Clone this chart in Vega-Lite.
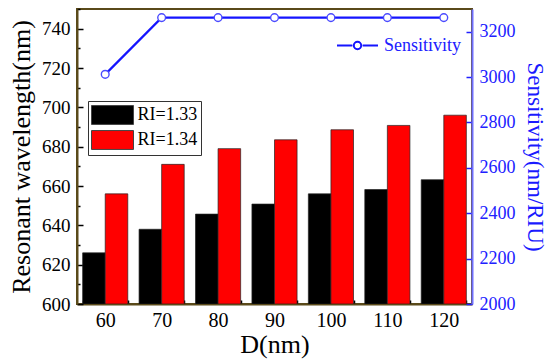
{
  "$schema": "https://vega.github.io/schema/vega-lite/v6.json",
  "width": 395,
  "height": 295,
  "autosize": "none",
  "padding": {"left": 77, "top": 9, "right": 74, "bottom": 56},
  "config": {
    "font": "Liberation Serif",
    "view": {"stroke": "#5a4a1a", "strokeWidth": 2},
    "axis": {"grid": false, "domainWidth": 2, "tickColor": "#000", "tickWidth": 1.5, "labelFont": "Liberation Serif", "titleFont": "Liberation Serif", "titleFontWeight": "normal"},
    "legend": {"labelFont": "Liberation Serif"}
  },
  "datasets": {
    "bars": [
      {"D": 60, "RI": "RI=1.33", "wl": 626},
      {"D": 60, "RI": "RI=1.34", "wl": 656},
      {"D": 70, "RI": "RI=1.33", "wl": 638},
      {"D": 70, "RI": "RI=1.34", "wl": 671},
      {"D": 80, "RI": "RI=1.33", "wl": 645.7},
      {"D": 80, "RI": "RI=1.34", "wl": 679},
      {"D": 90, "RI": "RI=1.33", "wl": 650.8},
      {"D": 90, "RI": "RI=1.34", "wl": 683.5},
      {"D": 100, "RI": "RI=1.33", "wl": 656},
      {"D": 100, "RI": "RI=1.34", "wl": 688.6},
      {"D": 110, "RI": "RI=1.33", "wl": 658.2},
      {"D": 110, "RI": "RI=1.34", "wl": 690.8},
      {"D": 120, "RI": "RI=1.33", "wl": 663.2},
      {"D": 120, "RI": "RI=1.34", "wl": 696}
    ],
    "sens": [
      {"D": 60, "S": 3012},
      {"D": 70, "S": 3262},
      {"D": 80, "S": 3262},
      {"D": 90, "S": 3262},
      {"D": 100, "S": 3262},
      {"D": 110, "S": 3262},
      {"D": 120, "S": 3262}
    ]
  },
  "layer": [
    {
      "data": {"name": "bars"},
      "mark": {"type": "bar", "stroke": "#222", "strokeWidth": 0.7, "clip": true},
      "encoding": {
        "x": {
          "field": "D", "type": "ordinal",
          "scale": {"paddingInner": 0.2, "paddingOuter": 0.1},
          "axis": {"title": "D(nm)", "labelAngle": 0, "labelFont": "Liberation Serif", "labelFontSize": 20, "labelColor": "#000", "titleFont": "Liberation Serif", "titleFontWeight": "normal", "titleFontSize": 26, "titleColor": "#000", "domainColor": "#5a4a1a", "tickBand": "extent", "tickSize": -4, "labelPadding": 10, "titlePadding": 1}
        },
        "xOffset": {"field": "RI", "type": "nominal", "scale": {"paddingInner": 0, "paddingOuter": 0}},
        "y": {
          "field": "wl", "type": "quantitative",
          "scale": {"domain": [600, 750], "nice": false, "zero": false},
          "axis": {
            "title": "Resonant wavelength(nm)",
            "values": [600, 610, 620, 630, 640, 650, 660, 670, 680, 690, 700, 710, 720, 730, 740, 750],
            "labelExpr": "datum.value % 20 === 0 && datum.value < 750 ? datum.label : ''",
            "tickSize": {"condition": {"test": "datum.value % 20 === 0", "value": -6}, "value": -3},
            "labelFont": "Liberation Serif", "labelFontSize": 19, "labelColor": "#000", "labelPadding": 13,
            "titleFont": "Liberation Serif", "titleFontWeight": "normal", "titleFontSize": 26, "titleColor": "#000", "titlePadding": 7,
            "domainColor": "#5a4a1a"
          }
        },
        "y2": {"datum": 600},
        "color": {
          "field": "RI", "type": "nominal",
          "scale": {"domain": ["RI=1.33", "RI=1.34"], "range": ["#000000", "#ff0000"]},
          "legend": {
            "title": null, "orient": "none", "legendX": 11, "legendY": 92,
            "strokeColor": "#333", "padding": 3, "rowPadding": 1,
            "symbolType": "M-2,-0.9H2V0.9H-2Z", "symbolSize": 441, "symbolOffset": 10.5,
            "symbolStrokeColor": "#444", "symbolStrokeWidth": 1,
            "labelFontSize": 18, "labelFont": "Liberation Serif", "labelColor": "#000", "labelOffset": 14
          }
        }
      }
    },
    {
      "data": {"name": "sens"},
      "layer": [
        {
          "mark": {"type": "line", "strokeWidth": 2.2},
          "encoding": {
            "x": {"field": "D", "type": "ordinal"},
            "y": {
              "field": "S", "type": "quantitative",
              "scale": {"domain": [2000, 3300], "nice": false, "zero": false},
              "axis": {
                "orient": "right", "title": "Sensitivity(nm/RIU)",
                "values": [2000, 2100, 2200, 2300, 2400, 2500, 2600, 2700, 2800, 2900, 3000, 3100, 3200, 3300],
                "labelExpr": "datum.value % 200 === 0 ? datum.label : ''",
                "format": "d",
                "tickSize": {"condition": {"test": "datum.value % 200 === 0", "value": -6}, "value": -3},
                "tickColor": "#2020ff",
                "labelFont": "Liberation Serif", "labelFontSize": 18, "labelColor": "#2020ff", "labelPadding": 13,
                "titleFont": "Liberation Serif", "titleFontWeight": "normal", "titleFontSize": 23, "titleColor": "#1a1aff", "titlePadding": 7,
                "domainColor": "#7070ff"
              }
            },
            "stroke": {
              "datum": "Sensitivity",
              "scale": {"range": ["#1515ff"]},
              "legend": {
                "title": null, "orient": "none", "legendX": 259, "legendY": 15,
                "symbolType": "M-1,0H-0.25M0.25,0H1M0.18,0A0.18,0.18 0 1,1 -0.18,0A0.18,0.18 0 1,1 0.18,0",
                "symbolSize": 1681, "symbolStrokeWidth": 2,
                "labelFontSize": 18, "labelFont": "Liberation Serif", "labelColor": "#2020ff", "labelOffset": 5
              }
            }
          }
        },
        {
          "mark": {"type": "point", "shape": "circle", "filled": true, "fill": "white", "stroke": "#4a4aff", "strokeWidth": 1.4, "size": 60, "opacity": 1},
          "encoding": {
            "x": {"field": "D", "type": "ordinal"},
            "y": {"field": "S", "type": "quantitative"}
          }
        }
      ]
    }
  ],
  "resolve": {"scale": {"y": "independent"}}
}
